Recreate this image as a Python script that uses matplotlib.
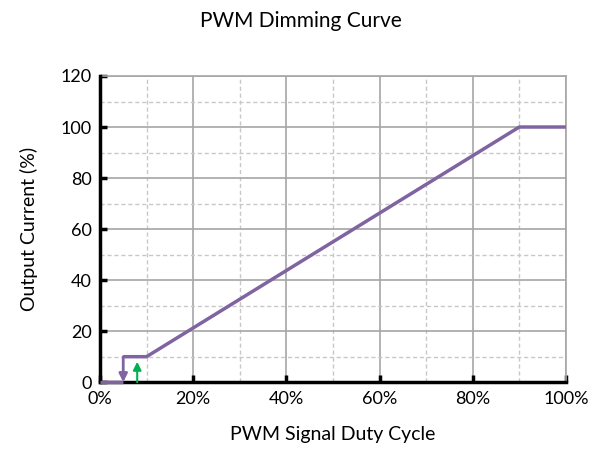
import matplotlib.pyplot as plt
from matplotlib.ticker import MultipleLocator, PercentFormatter

plt.rcParams['font.family'] = ['Lato', 'DejaVu Sans']

duty_low = [0, 5]
current_low = [0, 0]
duty = [5, 10, 90, 100]
current = [10, 10, 100, 100]
arrow_down = (5, 10, 0)   # x, from, to
arrow_up = (8, 0, 8)

purple = '#8064A2'
green = '#00B050'

fig = plt.figure(figsize=(6.02, 4.55), dpi=100)
ax = fig.add_axes([0.166, 0.160, 0.774, 0.673])

ax.plot(duty_low, current_low, color=purple, lw=2.5, solid_capstyle='butt',
        clip_on=False, zorder=5)
ax.plot(duty, current, color=purple, lw=2.5, solid_capstyle='butt', clip_on=False, zorder=5)
ax.annotate('', xy=(arrow_down[0], arrow_down[2]), xytext=(arrow_down[0], arrow_down[1]),
            arrowprops=dict(arrowstyle='-|>', color=purple, lw=2, mutation_scale=12,
                            shrinkA=0, shrinkB=0), zorder=6)
ax.annotate('', xy=(arrow_up[0], arrow_up[2]), xytext=(arrow_up[0], arrow_up[1]),
            arrowprops=dict(arrowstyle='-|>', color=green, lw=1.5, mutation_scale=12,
                            shrinkA=0, shrinkB=0), zorder=6)

ax.set_xlim(0, 100)
ax.set_ylim(0, 120)
ax.xaxis.set_major_locator(MultipleLocator(20))
ax.xaxis.set_minor_locator(MultipleLocator(10))
ax.yaxis.set_major_locator(MultipleLocator(20))
ax.yaxis.set_minor_locator(MultipleLocator(10))
ax.xaxis.set_major_formatter(PercentFormatter(decimals=0))

ax.grid(which='major', color='#A6A6A6', lw=1.2)
ax.grid(which='minor', color='#C8C8C8', lw=1, ls=(0, (3, 2)))
ax.set_axisbelow(True)

for side in ['top', 'right']:
    ax.spines[side].set_color('#A6A6A6')
    ax.spines[side].set_linewidth(1.2)
for side in ['left', 'bottom']:
    ax.spines[side].set_color('black')
    ax.spines[side].set_linewidth(2.5)
    ax.spines[side].set_zorder(4)

ax.tick_params(which='major', direction='in', length=5, width=2.5, labelsize=13, pad=6)
ax.tick_params(which='minor', length=0)

ax.set_xlabel('PWM Signal Duty Cycle', fontsize=14, labelpad=14)
ax.set_ylabel('Output Current (%)', fontsize=14, labelpad=16)
fig.suptitle('PWM Dimming Curve', fontsize=15, y=0.975)

fig.savefig('out.png', dpi=100)
